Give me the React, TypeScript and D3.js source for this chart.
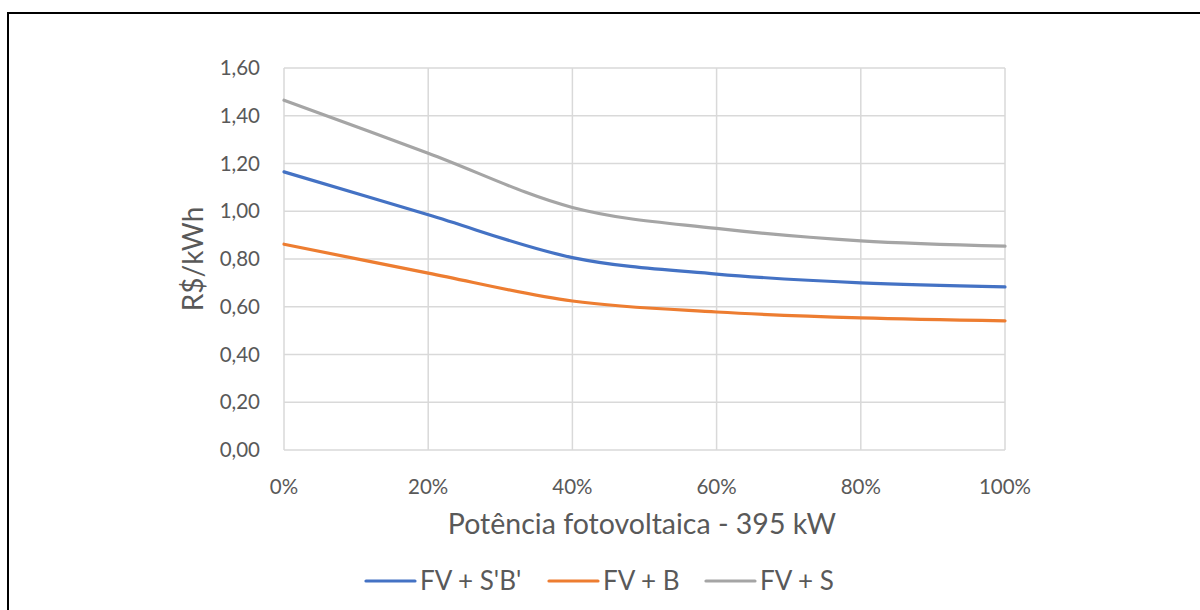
import React from "react";
import * as d3 from "d3";

const categories = [0, 20, 40, 60, 80, 100];
const seriesNames = ["FV + S'B'", "FV + B", "FV + S"];
const seriesFVSB = [1.165, 0.985, 0.806, 0.737, 0.7, 0.683];
const seriesFVB = [0.862, 0.741, 0.624, 0.578, 0.553, 0.541];
const seriesFVS = [1.465, 1.243, 1.016, 0.928, 0.876, 0.854];
const yTicks = [0, 0.2, 0.4, 0.6, 0.8, 1.0, 1.2, 1.4, 1.6];
const colors = ["#4472C4", "#ED7D31", "#A5A5A5"];

const FONT = "Lato, 'Open Sans', sans-serif";

export default function App() {
  const W = 1200, H = 610;
  const x = d3.scaleLinear().domain([0, 100]).range([284, 1005]);
  const y = d3.scaleLinear().domain([0, 1.6]).range([450, 68]);
  const all = [seriesFVSB, seriesFVB, seriesFVS];
  const line = d3
    .line<number>()
    .x((_, i) => x(categories[i]))
    .y((d) => y(d))
    .curve(d3.curveCatmullRom.alpha(0));
  const fmt = (v: number) => v.toFixed(2).replace(".", ",");
  const legendItems = [
    { lx: 366, tx: 420 },
    { lx: 549, tx: 603 },
    { lx: 706, tx: 760 },
  ];
  return (
    <svg
      width={W}
      height={H}
      style={{ position: "absolute", left: 0, top: 0 }}
    >
      <rect x={0} y={0} width={W} height={H} fill="#fff" />
      <rect x={8} y={13} width={1200} height={620} fill="none" stroke="#000" strokeWidth={2} />
      {yTicks.map((t) => (
        <line key={"h" + t} x1={x(0)} x2={x(100)} y1={y(t)} y2={y(t)} stroke="#D9D9D9" strokeWidth={1.5} />
      ))}
      {categories.map((c) => (
        <line key={"v" + c} x1={x(c)} x2={x(c)} y1={y(0)} y2={y(1.6)} stroke="#D9D9D9" strokeWidth={1.5} />
      ))}
      {yTicks.map((t) => (
        <text key={"yt" + t} x={260} y={y(t)} dy="0.35em" textAnchor="end" fontFamily={FONT} fontSize={20.5} fill="#595959">
          {fmt(t)}
        </text>
      ))}
      {categories.map((c) => (
        <text key={"xt" + c} x={x(c)} y={487} dy="0.35em" textAnchor="middle" fontFamily={FONT} fontSize={20.5} fill="#595959">
          {c + "%"}
        </text>
      ))}
      <text x={642} y={524} dy="0.35em" textAnchor="middle" fontFamily={FONT} fontSize={28.5} fill="#595959">
        Potência fotovoltaica - 395 kW
      </text>
      <text transform={`translate(193,259) rotate(-90)`} dy="0.35em" textAnchor="middle" fontFamily={FONT} fontSize={28} fill="#595959">
        R$/kWh
      </text>
      {all.map((s, i) => (
        <path key={"s" + i} d={line(s) || ""} fill="none" stroke={colors[i]} strokeWidth={3.2} strokeLinecap="round" />
      ))}
      {seriesNames.map((n, i) => (
        <g key={"lg" + i}>
          <line x1={legendItems[i].lx} x2={legendItems[i].lx + 49} y1={581} y2={581} stroke={colors[i]} strokeWidth={3.2} strokeLinecap="round" />
          <text x={legendItems[i].tx} y={581} dy="0.35em" fontFamily={FONT} fontSize={26} fill="#595959">
            {n}
          </text>
        </g>
      ))}
    </svg>
  );
}
